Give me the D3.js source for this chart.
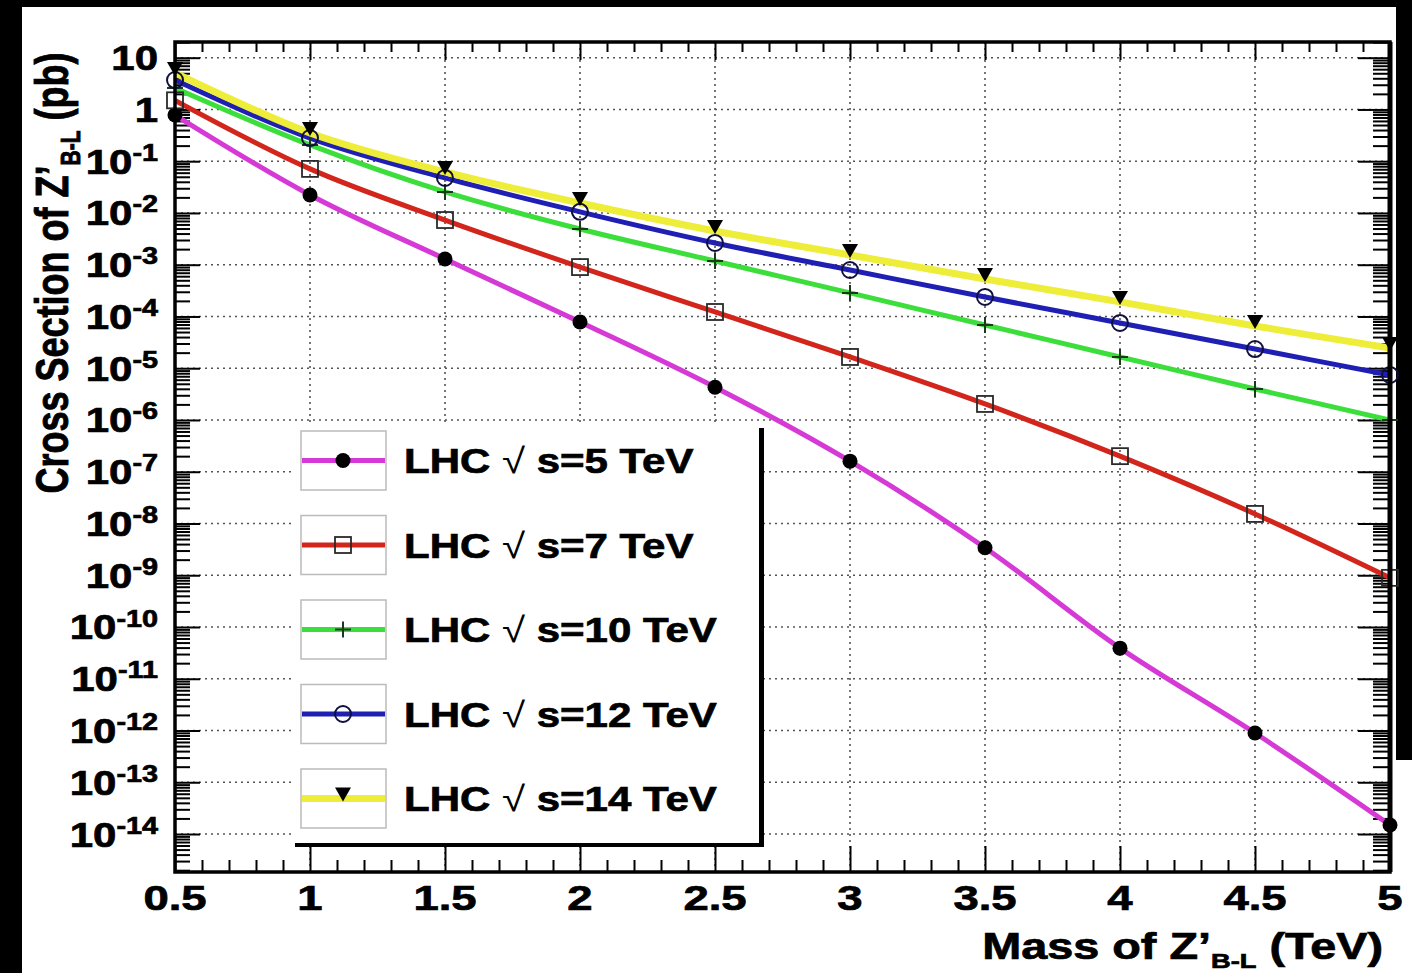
<!DOCTYPE html>
<html><head><meta charset="utf-8">
<script src="https://cdn.jsdelivr.net/npm/d3@7"></script>
<style>
html,body{margin:0;padding:0;background:#fff;}
svg{display:block;}
text{font-family:"Liberation Sans",Arial,Helvetica,sans-serif;font-weight:bold;fill:#000;stroke:#000;stroke-width:0.7px;}
</style></head>
<body>
<svg id="c" width="1412" height="973"></svg>
<script>
// ---------------- data ----------------
const mass = [0.5, 1, 1.5, 2, 2.5, 3, 3.5, 4, 4.5, 5];
const xs5  = [0.78, 0.0223, 1.29e-3, 7.8e-5, 4.3e-6, 1.6e-7, 3.4e-9, 3.9e-11, 8.95e-13, 1.49e-14];
const xs7  = [1.5, 0.071, 7.3e-3, 9.0e-4, 1.22e-4, 1.65e-5, 2.04e-6, 2.0e-7, 1.53e-8, 8.9e-10];
const xs10 = [2.6, 0.206, 0.0255, 4.9e-3, 1.18e-3, 2.85e-4, 6.85e-5, 1.65e-5, 3.97e-6, 1.0e-6];
const xs12 = [3.7, 0.28, 0.0475, 0.0105, 2.63e-3, 7.9e-4, 2.38e-4, 7.5e-5, 2.35e-5, 7.4e-6];
const xs14 = [5.07, 0.351, 0.0619, 0.0156, 4.49e-3, 1.54e-3, 5.30e-4, 1.91e-4, 6.55e-5, 2.46e-5];
const seriesNames = ["5", "7", "10", "12", "14"];
const xTickLabels = ["0.5", "1", "1.5", "2", "2.5", "3", "3.5", "4", "4.5", "5"];
const yTickExponents = [1, 0, -1, -2, -3, -4, -5, -6, -7, -8, -9, -10, -11, -12, -13, -14];

// ---------------- layout / style ----------------
const L = 175, R = 1390, T = 42, B = 872;
const svg = d3.select("#c");
const x = d3.scaleLinear().domain([0.5, 5]).range([L, R]);
const y = d3.scaleLog().domain([1.845e-15, 20.1]).range([B, T]);

const styles = [
  {color: "#d63ad6", marker: "dot",    w: 5},
  {color: "#d2261c", marker: "square", w: 5},
  {color: "#3cde3c", marker: "plus",   w: 5},
  {color: "#1f1fb4", marker: "circle", w: 5},
  {color: "#eeee3a", marker: "tri",    w: 7}
];
const data = [xs5, xs7, xs10, xs12, xs14];

// background + black strips of the screenshot
svg.append("rect").attr("width", 1412).attr("height", 973).attr("fill", "#fff");
svg.append("rect").attr("x", 0).attr("y", 0).attr("width", 1412).attr("height", 7).attr("fill", "#000");
svg.append("rect").attr("x", 0).attr("y", 0).attr("width", 22).attr("height", 973).attr("fill", "#000");
svg.append("rect").attr("x", 1396).attr("y", 0).attr("width", 16).attr("height", 760).attr("fill", "#000");

// grid
const xMajor = d3.range(0, 10).map(i => 0.5 + i * 0.5);
const xMinor = d3.range(0, 46).map(i => +(0.5 + i * 0.1).toFixed(2)).filter(v => !xMajor.some(m => Math.abs(m - v) < 1e-6));
const yMajor = yTickExponents.map(e => Math.pow(10, e));
const yMinor = [];
for (let e = -15; e <= 1; e++) for (let k = 2; k <= 9; k++) { const v = k * Math.pow(10, e); if (v >= 1.845e-15 && v <= 20.1) yMinor.push(v); }

const grid = svg.append("g").attr("stroke", "#555").attr("stroke-width", 1.6).attr("stroke-dasharray", "2,4");
grid.selectAll(".gx").data(xMajor.filter(v => v > 0.5 && v < 5)).enter().append("line")
  .attr("x1", d => x(d)).attr("x2", d => x(d)).attr("y1", T).attr("y2", B);
grid.selectAll(".gy").data(yMajor).enter().append("line")
  .attr("x1", L).attr("x2", R).attr("y1", d => y(d)).attr("y2", d => y(d));

// axes ticks (d3 axes)
function tickAxis(axis, tr) {
  const g = svg.append("g").attr("transform", tr).call(axis);
  g.select(".domain").remove();
  g.selectAll(".tick line").attr("stroke", "#000").attr("stroke-width", 2);
  g.selectAll(".tick text").remove();
  return g;
}
tickAxis(d3.axisBottom(x).tickValues(xMajor).tickSize(-26), `translate(0,${B})`);
tickAxis(d3.axisBottom(x).tickValues(xMinor).tickSize(-12), `translate(0,${B})`);
tickAxis(d3.axisTop(x).tickValues(xMajor).tickSize(-18), `translate(0,${T})`);
tickAxis(d3.axisTop(x).tickValues(xMinor).tickSize(-10), `translate(0,${T})`);
tickAxis(d3.axisLeft(y).tickValues(yMajor).tickSize(-25), `translate(${L},0)`);
tickAxis(d3.axisLeft(y).tickValues(yMinor).tickSize(-15), `translate(${L},0)`);
tickAxis(d3.axisRight(y).tickValues(yMajor).tickSize(-32), `translate(${R},0)`);
tickAxis(d3.axisRight(y).tickValues(yMinor).tickSize(-17), `translate(${R},0)`);

// curves
const line = d3.line().x(d => x(d[0])).y(d => y(d[1])).curve(d3.curveCatmullRom.alpha(0.5));
svg.append("clipPath").attr("id", "plotclip").append("rect")
  .attr("x", L).attr("y", T).attr("width", R - L).attr("height", B - T);
data.forEach((vals, i) => {
  svg.append("path").attr("d", line(mass.map((m, j) => [m, vals[j]])))
    .attr("fill", "none").attr("stroke", styles[i].color).attr("stroke-width", styles[i].w)
    .attr("stroke-linejoin", "round").attr("clip-path", "url(#plotclip)");
});

// markers
function drawMarker(g, type, cx, cy) {
  if (type === "dot") g.append("circle").attr("cx", cx).attr("cy", cy).attr("r", 7.5).attr("fill", "#000");
  else if (type === "square") g.append("rect").attr("x", cx - 8).attr("y", cy - 8).attr("width", 16).attr("height", 16)
    .attr("fill", "none").attr("stroke", "#2a2a2a").attr("stroke-width", 1.8);
  else if (type === "plus") { g.append("path").attr("d", `M${cx-8},${cy}H${cx+8}M${cx},${cy-8}V${cy+8}`)
    .attr("stroke", "#1a3a1a").attr("stroke-width", 2); }
  else if (type === "circle") g.append("circle").attr("cx", cx).attr("cy", cy).attr("r", 8)
    .attr("fill", "none").attr("stroke", "#101040").attr("stroke-width", 2);
  else if (type === "tri") g.append("path").attr("d", `M${cx-8},${cy-11}L${cx+8},${cy-11}L${cx},${cy+3}Z`).attr("fill", "#000");
}
const mk = svg.append("g");
data.forEach((vals, i) => {
  mass.forEach((m, j) => drawMarker(mk, styles[i].marker, x(m), y(vals[j])));
});

// frame
svg.append("rect").attr("x", L).attr("y", T).attr("width", R - L).attr("height", B - T)
  .attr("fill", "none").attr("stroke", "#000").attr("stroke-width", 3.5);
svg.append("line").attr("x1", R).attr("x2", R).attr("y1", T).attr("y2", B).attr("stroke", "#000").attr("stroke-width", 5);

// x tick labels
xTickLabels.forEach((t, i) => {
  svg.append("g").attr("transform", `translate(${x(mass[i])},910) scale(1.3,1)`)
    .append("text").attr("text-anchor", "middle").attr("font-size", 35).text(t);
});
// y tick labels
yTickExponents.forEach(e => {
  const g = svg.append("g").attr("transform", `translate(158,${y(Math.pow(10, e)) + 12.5}) scale(1.2,1)`);
  const t = g.append("text").attr("text-anchor", "end").attr("font-size", 35);
  if (e === 1) t.text("10");
  else if (e === 0) t.text("1");
  else {
    t.append("tspan").text("10");
    t.append("tspan").attr("font-size", 24).attr("dy", -13).text(String(e));
  }
});

// axis titles
{
  const g = svg.append("g").attr("transform", "translate(1383,959) scale(1.3,1)");
  const t = g.append("text").attr("text-anchor", "end").attr("font-size", 36);
  t.append("tspan").text("Mass of Z\u2019");
  t.append("tspan").attr("font-size", 21).attr("dy", 9).text("B-L");
  t.append("tspan").attr("dy", -9).text(" (TeV)");
}
{
  const g = svg.append("g").attr("transform", "translate(68,273) scale(1.3,1) rotate(-90)");
  const t = g.append("text").attr("text-anchor", "middle").attr("font-size", 36);
  t.append("tspan").text("Cross Section of Z\u2019");
  t.append("tspan").attr("font-size", 21).attr("dy", 9).text("B-L");
  t.append("tspan").attr("dy", -9).text(" (pb)");
}

// legend
const lg = svg.append("g");
lg.append("rect").attr("x", 293).attr("y", 424).attr("width", 466).attr("height", 419).attr("fill", "#fff");
lg.append("rect").attr("x", 759).attr("y", 428).attr("width", 5).attr("height", 419).attr("fill", "#000");
lg.append("rect").attr("x", 295).attr("y", 843).attr("width", 469).attr("height", 4).attr("fill", "#000");
seriesNames.forEach((nm, i) => {
  const top = 431 + i * 84.5, cy = top + 29.5;
  lg.append("rect").attr("x", 301).attr("y", top).attr("width", 85).attr("height", 59)
    .attr("fill", "none").attr("stroke", "#bbb").attr("stroke-width", 1.5);
  lg.append("line").attr("x1", 302).attr("x2", 385).attr("y1", cy).attr("y2", cy)
    .attr("stroke", styles[i].color).attr("stroke-width", styles[i].w);
  drawMarker(lg, styles[i].marker, 343, cy);
  const g = lg.append("g").attr("transform", `translate(404,${cy + 12.5}) scale(1.2,1)`);
  const t = g.append("text").attr("font-size", 35);
  t.append("tspan").text("LHC ");
  t.append("tspan").attr("font-weight", "normal").attr("stroke-width", 0).text("\u221A");
  t.append("tspan").text(` s=${nm} TeV`);
});
</script>
</body></html>
